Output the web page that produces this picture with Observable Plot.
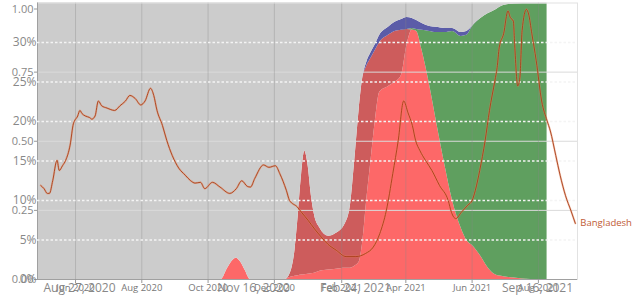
<!DOCTYPE html>
<html><head><meta charset="utf-8">
<script src="https://cdn.jsdelivr.net/npm/d3@7"></script>
<script src="https://cdn.jsdelivr.net/npm/@observablehq/plot@0.6"></script>
<style>
body{margin:0;background:#fff;}
#wrap{position:relative;width:642px;height:299px;overflow:hidden;font-family:"Open Sans",sans-serif;}
#wrap svg{position:absolute;left:0;top:0;}
</style></head><body><div id="wrap"></div>
<script>
// ---- variant share data (stacked areas) ----
const areaDates = ["2020-04-27","2020-10-13","2020-10-19","2020-10-24","2020-10-27","2020-10-31","2020-11-04","2020-11-09","2020-12-11","2020-12-16","2020-12-20","2020-12-23","2020-12-26","2020-12-29","2021-01-01","2021-01-04","2021-01-07","2021-01-12","2021-01-20","2021-01-27","2021-02-04","2021-02-09","2021-02-13","2021-02-17","2021-02-20","2021-02-24","2021-02-28","2021-03-04","2021-03-08","2021-03-16","2021-03-22","2021-03-28","2021-04-02","2021-04-07","2021-04-11","2021-04-16","2021-04-23","2021-04-29","2021-05-07","2021-05-14","2021-05-22","2021-05-27","2021-06-02","2021-06-09","2021-06-16","2021-06-23","2021-06-30","2021-07-10","2021-07-25","2021-08-09"];
const beta  = [0,0,0.041,0.070,0.077,0.063,0.034,0,0,0.008,0.012,0.014,0.016,0.017,0.019,0.021,0.023,0.030,0.034,0.037,0.041,0.041,0.048,0.062,0.124,0.286,0.431,0.576,0.677,0.698,0.713,0.738,0.846,0.902,0.897,0.828,0.702,0.575,0.413,0.286,0.185,0.142,0.120,0.084,0.041,0.016,0.010,0.005,0,0];
const alpha = [0,0,0,0,0,0,0,0,0,0.018,0.094,0.218,0.361,0.447,0.394,0.284,0.209,0.155,0.122,0.130,0.159,0.227,0.383,0.550,0.596,0.485,0.369,0.253,0.180,0.185,0.184,0.163,0.058,0,0,0,0,0,0,0,0,0,0,0,0,0,0,0,0,0];
const delta = [0,0,0,0,0,0,0,0,0,0,0,0,0,0,0,0,0,0,0,0,0,0,0,0,0,0,0,0,0,0,0,0,0,0.006,0.007,0.073,0.195,0.318,0.480,0.611,0.694,0.741,0.799,0.860,0.921,0.960,0.981,0.991,0.997,0.997];
const eta   = [0,0,0,0,0,0,0,0,0,0,0,0,0,0,0,0,0,0,0,0,0,0,0,0,0,0.014,0.021,0.021,0.026,0.029,0.033,0.039,0.044,0.036,0.033,0.025,0.018,0.019,0.015,0.011,0.014,0.014,0,0,0,0,0,0,0,0];
const other = [1,1,0.959,0.930,0.923,0.937,0.966,1,1,0.974,0.894,0.768,0.623,0.536,0.587,0.695,0.768,0.815,0.844,0.833,0.800,0.732,0.569,0.388,0.280,0.215,0.179,0.150,0.117,0.088,0.070,0.060,0.052,0.056,0.063,0.074,0.085,0.088,0.092,0.092,0.107,0.103,0.081,0.056,0.038,0.024,0.009,0.004,0.003,0.003];
const variantNames = ["Beta","Alpha","Delta","Eta","Other"];
const variantColors = ["#fd6868","#cd5c5c","#5f9f5f","#5b5ca8","#cccccc"];

// ---- Bangladesh line (percent) ----
const lineDates = ["2020-04-30","2020-05-03","2020-05-06","2020-05-08","2020-05-11","2020-05-15","2020-05-17","2020-05-20","2020-05-23","2020-05-27","2020-05-30","2020-06-03","2020-06-05","2020-06-07","2020-06-10","2020-06-14","2020-06-16","2020-06-19","2020-06-22","2020-06-25","2020-06-30","2020-07-07","2020-07-12","2020-07-17","2020-07-21","2020-07-26","2020-07-31","2020-08-04","2020-08-09","2020-08-12","2020-08-15","2020-08-20","2020-08-24","2020-08-29","2020-09-04","2020-09-10","2020-09-15","2020-09-19","2020-09-24","2020-09-28","2020-10-05","2020-10-12","2020-10-21","2020-10-27","2020-11-01","2020-11-06","2020-11-09","2020-11-13","2020-11-21","2020-11-26","2020-12-02","2020-12-06","2020-12-12","2020-12-15","2020-12-22","2020-12-26","2021-01-01","2021-01-07","2021-01-13","2021-01-19","2021-01-27","2021-02-05","2021-02-14","2021-02-23","2021-03-02","2021-03-08","2021-03-14","2021-03-20","2021-03-25","2021-03-30","2021-04-03","2021-04-07","2021-04-10","2021-04-14","2021-04-19","2021-04-25","2021-05-02","2021-05-10","2021-05-13","2021-05-17","2021-05-22","2021-05-28","2021-06-01","2021-06-04","2021-06-08","2021-06-13","2021-06-17","2021-06-22","2021-06-24","2021-06-26","2021-06-30","2021-07-04","2021-07-06","2021-07-09","2021-07-10","2021-07-13","2021-07-15","2021-07-17","2021-07-21","2021-07-23","2021-07-26","2021-07-30","2021-08-04","2021-08-09","2021-08-12","2021-08-17","2021-08-21","2021-08-26","2021-08-31","2021-09-04"];
const lineValues = [11.9,11.5,10.9,10.9,12.5,15.1,13.8,14.4,15.1,17.0,19.7,20.7,21.4,21.0,20.7,20.5,20.3,20.7,22.6,22.0,21.7,21.4,22.0,22.6,23.3,22.9,22.1,22.6,24.2,23.3,21.4,19.5,17.6,15.7,14.1,13.2,12.5,12.2,12.3,11.5,12.3,11.7,10.9,11.5,12.5,11.8,11.7,12.8,14.5,14.2,14.4,13.4,11.3,10.0,9.2,8.5,7.5,6.4,5.4,4.5,3.7,2.9,2.9,3.3,4.1,5.8,8.7,13.4,17.6,22.6,21.1,19.5,17.6,16.3,15.1,13.8,11.9,10.0,8.5,7.7,8.5,9.4,10.0,11.3,13.8,17.6,21.4,25.2,26.8,29.4,31.1,34.0,33.2,32.7,30.2,24.5,25.6,31.5,34.2,33.6,31.1,27.7,22.6,20.1,18.8,15.7,13.2,10.6,8.7,7.1];
const lineLabel = "Bangladesh";

// ---- tick labels ----
const monthTicks = ["2020-06-01","2020-08-01","2020-10-01","2020-12-01","2021-02-01","2021-04-01","2021-06-01","2021-08-01"];
const fracTicks = [0,0.25,0.5,0.75];
const fracTop = [1];
const pctTicks = [0,5,10,15,20,25,30];
const lineAxisTicks = ["2020-08-27","2020-11-16","2021-02-24","2021-09-16"];
const lineAxisRange = [79,253,355,537];

const W=642, H=299, mL=37, mR=65, mT=2.5, mB=20;
const xDomain=[new Date("2020-04-27"), new Date("2021-09-06")];
const font='"Open Sans", sans-serif';

const rows=[];
const series=[beta,alpha,delta,eta,other];
series.forEach((vals,k)=>areaDates.forEach((d,i)=>rows.push({date:new Date(d),variant:variantNames[k],share:vals[i]})));
const lineData=lineDates.map((d,i)=>({date:new Date(d),pct:lineValues[i]}));
const months=monthTicks.map(d=>new Date(d));

const p1=Plot.plot({
  width:W,height:H,marginLeft:mL,marginRight:mR,marginTop:mT,marginBottom:mB,
  style:{background:"white",fontFamily:font,color:"#888",overflow:"visible"},
  x:{type:"utc",domain:xDomain,label:null},
  y:{domain:[0,1],label:null},
  color:{domain:variantNames,range:variantColors},
  marks:[
    Plot.areaY(rows,{x:"date",y:"share",fill:"variant",curve:"monotone-x"}),
    Plot.gridY([0.25,0.5,0.75],{stroke:"#dadada",strokeOpacity:1}),
    Plot.gridX(months,{stroke:"#888",strokeOpacity:0.35}),
    Plot.frame({stroke:"#e2e2e2"}),
    Plot.ruleY([0],{stroke:"#a0a0a0"}),
    Plot.ruleX([xDomain[0]],{stroke:"#a0a0a0"}),
    Plot.axisX(months,{label:null,tickFormat:d3.utcFormat("%b %Y"),tickSize:4,tickPadding:1,fontSize:9.5,stroke:"#999",fill:"#777"}),
    Plot.axisY(fracTicks,{label:null,tickFormat:d3.format(".2f"),tickSize:3,tickPadding:1,fontSize:11,stroke:"#999",fill:"#888"}),
    Plot.axisY(fracTop,{label:null,tickFormat:d3.format(".2f"),tickSize:3,tickPadding:1,fontSize:11,dy:6,stroke:"#999",fill:"#888"})
  ]
});

const p2=Plot.plot({
  width:W,height:H,marginLeft:mL,marginRight:mR,marginTop:mT,marginBottom:mB,
  style:{background:"transparent",fontFamily:font,color:"#888",overflow:"visible"},
  x:{type:"utc",domain:xDomain,axis:null,label:null},
  y:{domain:[0,35],axis:null,label:null},
  marks:[
    Plot.gridY(pctTicks.filter(t=>t>0),{stroke:"#f4f4f4",strokeOpacity:1,strokeWidth:1.3,strokeDasharray:"2.5,2"}),
    Plot.axisY(pctTicks,{label:null,tickSize:0,tickPadding:1,tickFormat:d=>d+"%",fontSize:12,fill:"#888"}),
    Plot.line(lineData,{x:"date",y:"pct",stroke:"#e8875a",strokeWidth:2,strokeOpacity:0.45,curve:"monotone-x"}),
    Plot.line(lineData,{x:"date",y:"pct",stroke:"#a83e1a",strokeWidth:0.9,curve:"monotone-x"}),
    Plot.text(lineData,Plot.selectLast({x:"date",y:"pct",text:()=>lineLabel,dx:5,textAnchor:"start",fill:"#c05a35",fontSize:9.5}))
  ]
});

const p3=Plot.plot({
  width:W,height:H,marginLeft:mL,marginRight:mR,marginTop:mT,marginBottom:mB,
  style:{background:"transparent",fontFamily:font,color:"#888",overflow:"visible"},
  x:{type:"utc",domain:lineAxisTicks.map(d=>new Date(d)),range:lineAxisRange,label:null},
  y:{domain:[0,1],axis:null,label:null},
  marks:[
    Plot.axisX(lineAxisTicks.map(d=>new Date(d)),{label:null,tickFormat:d3.utcFormat("%b %-d, %Y"),tickSize:0,tickPadding:4,fontSize:12,fill:"#888"})
  ]
});

const wrap=document.getElementById("wrap");
wrap.appendChild(p1);wrap.appendChild(p2);wrap.appendChild(p3);
</script></body></html>
